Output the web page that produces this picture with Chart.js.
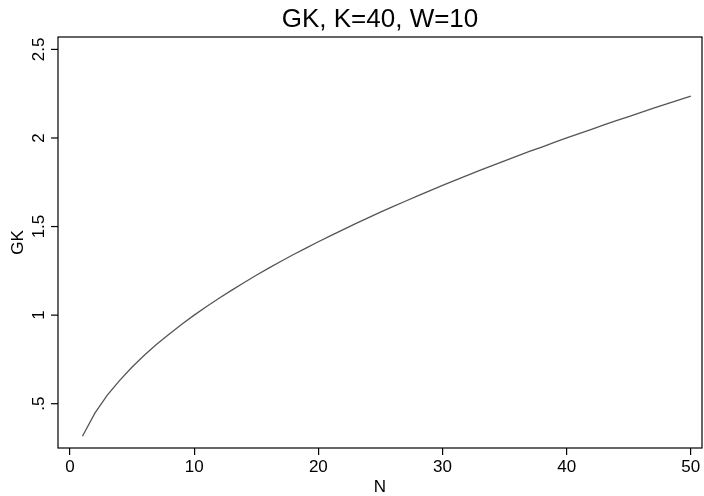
<!DOCTYPE html>
<html>
<head>
<meta charset="utf-8">
<script src="https://cdn.jsdelivr.net/npm/chart.js@4"></script>
<style>
  html, body { margin: 0; padding: 0; background: #fff; }
  #wrap { width: 704px; height: 496px; position: relative; }
</style>
</head>
<body>
<div id="wrap"><canvas id="chart"></canvas></div>
<script>
const titleText = 'GK, K=40, W=10';
const xTitle = 'N';
const yTitle = 'GK';

const nValues = [
  1, 2, 3, 4, 5, 6, 7, 8, 9, 10,
  11, 12, 13, 14, 15, 16, 17, 18, 19, 20,
  21, 22, 23, 24, 25, 26, 27, 28, 29, 30,
  31, 32, 33, 34, 35, 36, 37, 38, 39, 40,
  41, 42, 43, 44, 45, 46, 47, 48, 49, 50
];
const gkValues = [
  0.316, 0.447, 0.548, 0.632, 0.707, 0.775, 0.837, 0.894, 0.949, 1.000,
  1.049, 1.095, 1.140, 1.183, 1.225, 1.265, 1.304, 1.342, 1.378, 1.414,
  1.449, 1.483, 1.517, 1.549, 1.581, 1.612, 1.643, 1.673, 1.703, 1.732,
  1.761, 1.789, 1.817, 1.844, 1.871, 1.897, 1.924, 1.949, 1.975, 2.000,
  2.025, 2.049, 2.074, 2.098, 2.121, 2.145, 2.168, 2.191, 2.214, 2.236
];
const xTicks = [0, 10, 20, 30, 40, 50];
const yTicks = [0.5, 1, 1.5, 2, 2.5];
const yTickLabels = ['.5', '1', '1.5', '2', '2.5'];

const FONT = '"Liberation Sans", Arial, Helvetica, sans-serif';

// stata-ish frame, rotated y labels and titles
const decorations = {
  id: 'decorations',
  afterDraw (chart) {
    const ctx = chart.ctx;
    const area = chart.chartArea;
    const y = chart.scales.y;
    ctx.save();

    ctx.strokeStyle = '#000';
    ctx.lineWidth = 1.2;
    ctx.strokeRect(area.left, area.top, area.right - area.left, area.bottom - area.top);

    ctx.fillStyle = '#000';
    ctx.font = '17px ' + FONT;
    ctx.textAlign = 'center';
    ctx.textBaseline = 'middle';
    yTicks.forEach((v, i) => {
      const py = y.getPixelForValue(v);
      ctx.beginPath();
      ctx.moveTo(area.left - 7, py);
      ctx.lineTo(area.left, py);
      ctx.stroke();
      ctx.save();
      ctx.translate(39, py);
      ctx.rotate(-Math.PI / 2);
      ctx.fillText(yTickLabels[i], 0, 0);
      ctx.restore();
    });

    ctx.save();
    ctx.translate(18, (area.top + area.bottom) / 2);
    ctx.rotate(-Math.PI / 2);
    ctx.fillText(yTitle, 0, 0);
    ctx.restore();

    ctx.fillText(xTitle, (area.left + area.right) / 2, 487);

    ctx.font = '26px ' + FONT;
    ctx.fillText(titleText, (area.left + area.right) / 2, 20);
    ctx.restore();
  }
};

new Chart(document.getElementById('chart'), {
  type: 'scatter',
  data: {
    datasets: [{
      data: nValues.map((n, i) => ({ x: n, y: gkValues[i] })),
      showLine: true,
      borderColor: '#555555',
      borderWidth: 1.3,
      pointRadius: 0,
      fill: false,
      tension: 0
    }]
  },
  options: {
    responsive: true,
    maintainAspectRatio: false,
    animation: false,
    layout: { padding: { top: 37, right: 2, left: 0, bottom: 0 } },
    plugins: {
      legend: { display: false },
      title: { display: false },
      tooltip: { enabled: false }
    },
    scales: {
      x: {
        type: 'linear',
        min: -0.97,
        max: 50.9,
        afterBuildTicks: scale => { scale.ticks = xTicks.map(v => ({ value: v })); },
        afterFit: scale => { scale.height = 48; },
        border: { display: false },
        grid: { drawOnChartArea: false, drawTicks: true, tickLength: 7, tickColor: '#000', lineWidth: 1.2 },
        ticks: { color: '#000', font: { family: FONT, size: 17 }, padding: 2, maxRotation: 0 }
      },
      y: {
        type: 'linear',
        min: 0.25,
        max: 2.57,
        afterFit: scale => { scale.width = 58; },
        border: { display: false },
        grid: { display: false },
        ticks: { display: false }
      }
    }
  },
  plugins: [decorations]
});
</script>
</body>
</html>
